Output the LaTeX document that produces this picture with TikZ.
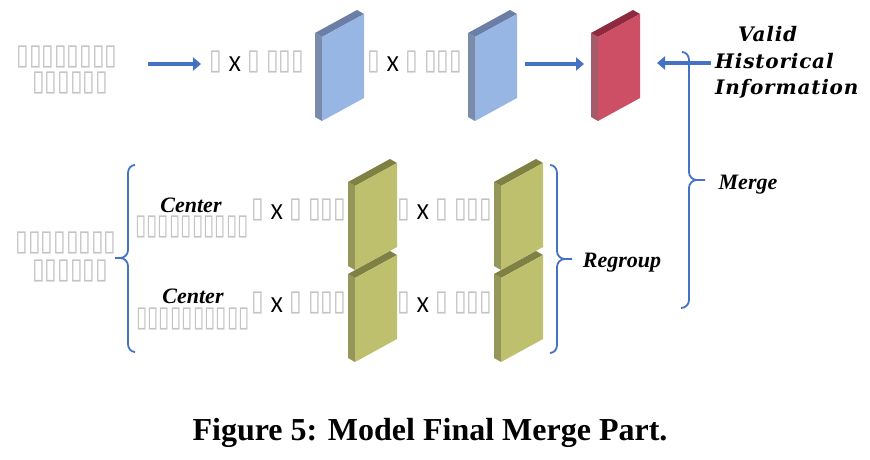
\documentclass[tikz,border=0pt]{standalone}
\usepackage{fontspec}
\setmainfont{Liberation Serif}
\newfontfamily\djv{DejaVu Sans}
\newfontfamily\vhfont[LetterSpace=4]{DejaVu Serif}
\newfontfamily\xfont{Carlito}
\usetikzlibrary{arrows.meta}
\definecolor{abl}{HTML}{4472C4}
\definecolor{tofu}{HTML}{C4C4C4}
\definecolor{bfront}{HTML}{98B6E4}
\definecolor{bside}{HTML}{7B8BAA}
\definecolor{btop}{HTML}{6B7FA6}
\definecolor{rfront}{HTML}{CC4F65}
\definecolor{rside}{HTML}{A55A6A}
\definecolor{rtop}{HTML}{8E2A3D}
\definecolor{ofront}{HTML}{BEC06D}
\definecolor{oside}{HTML}{959659}
\definecolor{otop}{HTML}{7F8043}
\newcommand\tfb{\raisebox{0pt}[15pt][2pt]{\textcolor{tofu}{\scalebox{1.15}[1.45]{▯}}}}
\newcommand\tfc{\raisebox{0pt}[15pt][2pt]{\textcolor{tofu}{\scalebox{1.03}[1.45]{▯}}}}
\newcommand\tfx{\raisebox{-2pt}{\xfont\fontsize{23}{23}\selectfont X}}
\newcommand\mkslab[3]{%
\begin{scope}[shift={#2}]
\coordinate (#1) at (0,0);
\fill[#3side] (-7,-4) -- (0,0) -- (0,84) -- (-7,80) -- cycle;
\fill[#3top] (-7,-4) -- (35,-27) -- (42,-23) -- (0,0) -- cycle;
\fill[#3front] (0,0) -- (42,-23) -- (42,61) -- (0,84) -- cycle;
\end{scope}}
\tikzset{
  tofutext/.style={inner sep=0pt, anchor=base, font=\djv\fontsize{20}{27}\selectfont},
  lbl/.style={inner sep=0pt, anchor=base, font=\bfseries\itshape\fontsize{22}{22}\selectfont},
  vhlbl/.style={inner sep=0pt, anchor=base west, font=\vhfont\bfseries\itshape\fontsize{20}{20}\selectfont},
  fatarrow/.style={abl, line width=4.5pt, -{Triangle[length=8pt,width=13pt]}},
  bracestyle/.style={abl, line width=1.8pt},
}
\begin{document}
\begin{tikzpicture}[x=1pt,y=-1pt]
\useasboundingbox[fill=white] (0,0) rectangle (870,460);
% slabs
\mkslab{b1}{(322,37)}{b}
\mkslab{b2}{(475,37)}{b}
\mkslab{r1}{(598,37)}{r}
\mkslab{o1}{(355,186)}{o}
\mkslab{o2}{(355,278)}{o}
\mkslab{o3}{(501,186)}{o}
\mkslab{o4}{(501,278)}{o}
% texts
\node[tofutext] (tla) at (67,64) {\tfb\tfb\tfb\tfb\tfb\tfb\tfb\tfb};
\node[tofutext] (tlb) at (70,90) {\tfb\tfb\tfb\tfb\tfb\tfb};
\node[tofutext] (d1) at (257,70) {\tfb\ \tfx\ \tfb\ \tfb\tfb\tfb};
\node[tofutext] (d2) at (415,70) {\tfb\ \tfx\ \tfb\ \tfb\tfb\tfb};
\node[tofutext] (lla) at (66,250) {\tfb\tfb\tfb\tfb\tfb\tfb\tfb\tfb};
\node[tofutext] (llb) at (70,278) {\tfb\tfb\tfb\tfb\tfb\tfb};
\node[lbl] (c1) at (191,212) {Center};
\node[tofutext] (c1t) at (192,234) {\tfc\tfc\tfc\tfc\tfc\tfc\tfc\tfc\tfc\tfc};
\node[lbl] (c2) at (193,303) {Center};
\node[tofutext] (c2t) at (193,326) {\tfc\tfc\tfc\tfc\tfc\tfc\tfc\tfc\tfc\tfc};
\node[tofutext] (d3) at (299,217) {\tfb\ \tfx\ \tfb\ \tfb\tfb\tfb};
\node[tofutext] (d4) at (299,310) {\tfb\ \tfx\ \tfb\ \tfb\tfb\tfb};
\node[tofutext] (d5) at (445,217) {\tfb\ \tfx\ \tfb\ \tfb\tfb\tfb};
\node[tofutext] (d6) at (445,310) {\tfb\ \tfx\ \tfb\ \tfb\tfb\tfb};
\node[lbl] (rg) at (622,267) {Regroup};
\node[lbl] (mg) at (748,189) {Merge};
\node[vhlbl] (v1) at (738,42) {Valid};
\node[vhlbl] (v2) at (715,69) {Historical};
\node[vhlbl] (v3) at (715,95) {Information};
\node[inner sep=0pt, anchor=base, font=\bfseries\fontsize{32}{32}\selectfont] (cap) at (430,440) {Figure 5: Model Final Merge Part.};
% braces
\draw[bracestyle] (135,165) to[out=180,in=90] (128,173) -- (128,250) to[out=-90,in=0] (120,258) -- (115,258)
  (120,258) to[out=0,in=90] (128,266) -- (128,344) to[out=-90,in=180] (135,352);
\draw[bracestyle] (550,165) to[out=0,in=90] (557,173) -- (557,251) to[out=-90,in=180] (565,259) -- (572,259)
  (565,259) to[out=180,in=90] (557,267) -- (557,345) to[out=-90,in=0] (550,353);
\draw[bracestyle] (682,52) to[out=0,in=90] (689,60) -- (689,172) to[out=-90,in=180] (697,180) -- (705,180)
  (697,180) to[out=180,in=90] (689,188) -- (689,300) to[out=-90,in=0] (681,308);
% arrows
\coordinate (a1s) at (148,64); \coordinate (a1e) at (201,64);
\coordinate (a2s) at (525,64); \coordinate (a2e) at (584,64);
\coordinate (a3s) at (711,63); \coordinate (a3e) at (657,63);
\draw[fatarrow] (a1s) -- (a1e);
\draw[fatarrow] (a2s) -- (a2e);
\draw[fatarrow] (a3s) -- (a3e);
\end{tikzpicture}
\end{document}
